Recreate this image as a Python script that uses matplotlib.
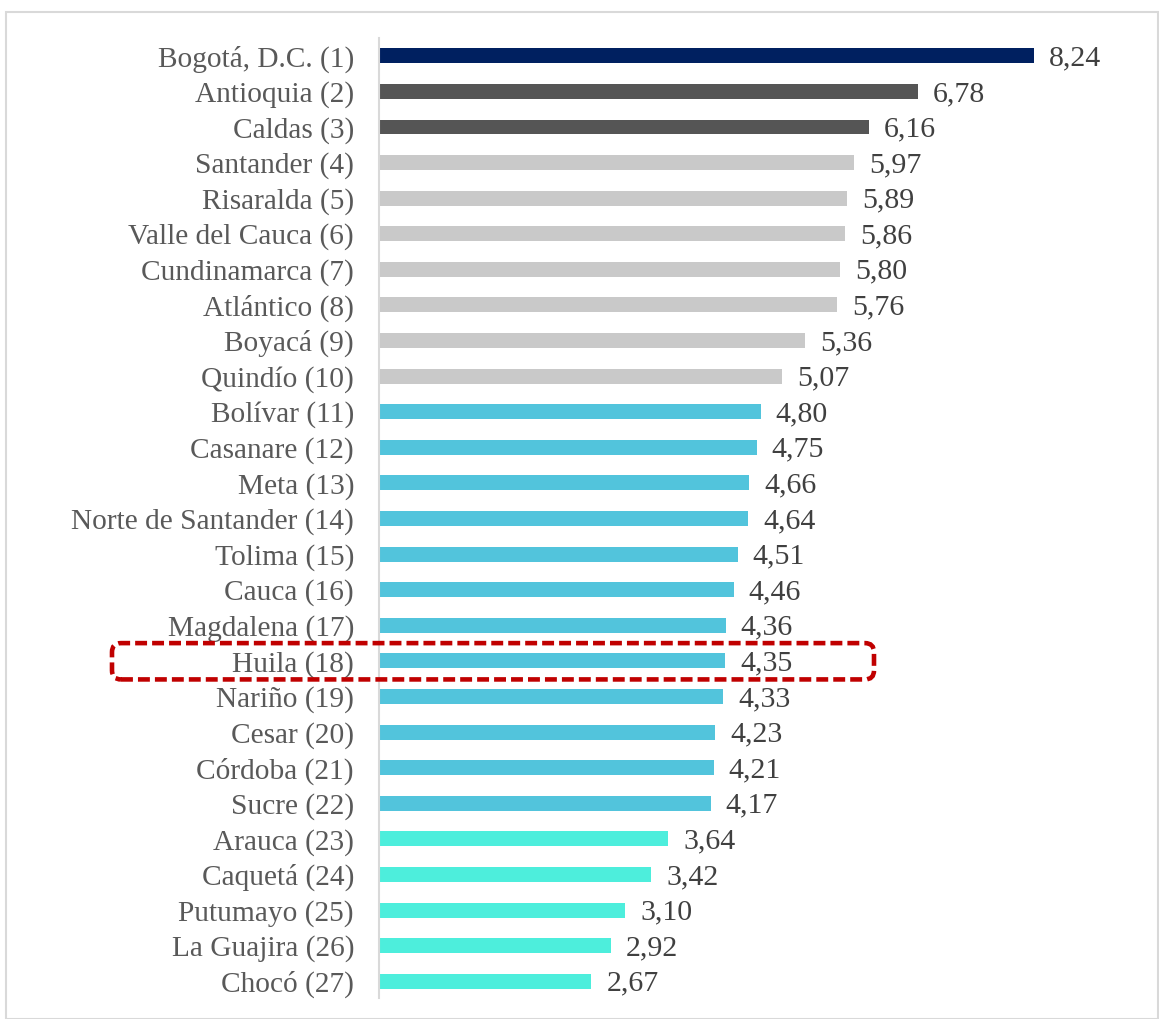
import matplotlib.pyplot as plt
from matplotlib.patches import FancyBboxPatch, Rectangle
from matplotlib.transforms import IdentityTransform

plt.rcParams['font.family'] = ['Liberation Serif', 'DejaVu Serif']

departments = ["Bogotá, D.C. (1)", "Antioquia (2)", "Caldas (3)", "Santander (4)",
               "Risaralda (5)", "Valle del Cauca (6)", "Cundinamarca (7)", "Atlántico (8)",
               "Boyacá (9)", "Quindío (10)", "Bolívar (11)", "Casanare (12)", "Meta (13)",
               "Norte de Santander (14)", "Tolima (15)", "Cauca (16)", "Magdalena (17)",
               "Huila (18)", "Nariño (19)", "Cesar (20)", "Córdoba (21)", "Sucre (22)",
               "Arauca (23)", "Caquetá (24)", "Putumayo (25)", "La Guajira (26)", "Chocó (27)"]
scores = [8.24, 6.78, 6.16, 5.97, 5.89, 5.86, 5.80, 5.76, 5.36, 5.07, 4.80, 4.75, 4.66,
          4.64, 4.51, 4.46, 4.36, 4.35, 4.33, 4.23, 4.21, 4.17, 3.64, 3.42, 3.10, 2.92, 2.67]
groups = [0, 1, 1] + [2] * 7 + [3] * 12 + [4] * 5
group_colors = ["#002060", "#555555", "#C9C9C9", "#52C4DC", "#4DEEDC"]
highlight = "Huila (18)"

W, H = 1159, 1019
fig = plt.figure(figsize=(W / 100, H / 100), dpi=100)
fig.patches.append(Rectangle((6 / W, 0), 1152 / W, 1 - 12 / H, transform=fig.transFigure,
                             fill=False, edgecolor="#D9D9D9", linewidth=1.5))
ax = fig.add_axes([379 / W, 1 - 998 / H, 780 / W, 960 / H])

pos = list(range(len(departments)))
colors = [group_colors[g] for g in groups]
ax.barh(pos, scores, height=0.42, color=colors)

for p, v in zip(pos, scores):
    ax.text(v + 0.19, p + 0.07, f"{v:.2f}".replace(".", ","), va="center", ha="left",
            fontsize=21.5, color="#404040")

ax.set_yticks(pos)
ax.set_yticklabels(departments, fontsize=21.2, color="#595959")
ax.tick_params(axis="y", length=0, pad=18)
ax.set_xticks([])
ax.set_ylim(len(departments) - 0.53, -0.5)
ax.set_xlim(0, 780 / 79.5)
for s in ["top", "right", "bottom"]:
    ax.spines[s].set_visible(False)
ax.spines["left"].set_color("#D9D9D9")
ax.spines["left"].set_linewidth(1.5)

# dashed box round the highlighted department (pixel coordinates from the data row)
hi = departments.index(highlight)
_, y_top = ax.transData.transform((0, hi - 0.5))
_, y_bot = ax.transData.transform((0, hi + 0.52))
box = FancyBboxPatch((112, y_bot), 762, y_top - y_bot,
                     boxstyle="round,pad=0,rounding_size=9", transform=IdentityTransform(),
                     fill=False, edgecolor="#C00000", linewidth=3.3,
                     linestyle=(0, (2.6, 1.1)))
fig.patches.append(box)

plt.savefig("out.png", dpi=100)
